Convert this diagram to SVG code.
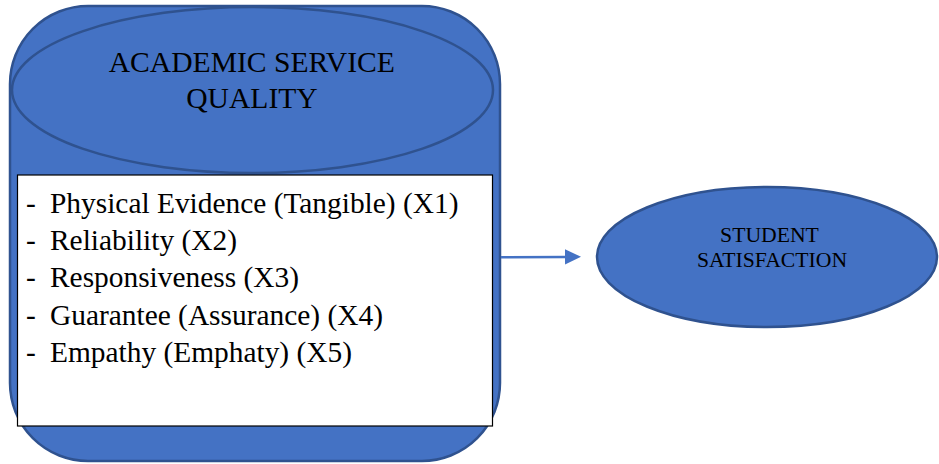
<svg xmlns="http://www.w3.org/2000/svg" width="939" height="464" viewBox="0 0 939 464">
  <defs>
    <style>
      .shape { fill: #4472C4; stroke: #2F528F; stroke-width: 2.5; }
      .txt { font-family: 'Liberation Serif', 'DejaVu Serif', 'Times New Roman', Times, serif; fill: #000; }
      .conn { stroke: #4472C4; stroke-width: 2.5; fill: none; }
    </style>
    <marker id="arrow" markerWidth="16" markerHeight="16" refX="1" refY="8" orient="auto" markerUnits="userSpaceOnUse" viewBox="0 0 16 16">
      <path d="M0,0.3 L16,8 L0,15.7 Z" fill="#4472C4"/>
    </marker>
  </defs>

  <!-- Academic service quality construct -->
  <g id="service-quality">
    <rect class="shape" x="10" y="6" width="490" height="455" rx="78" ry="78"/>
    <ellipse class="shape" cx="252.5" cy="90" rx="240.5" ry="83" stroke-width="2"/>
    <text class="txt" font-size="29.6" text-anchor="middle">
      <tspan x="255.5" y="72">ACADEMIC SERVICE</tspan>
      <tspan x="252" y="108">QUALITY</tspan>
    </text>
  </g>

  <!-- Dimension list -->
  <g id="dimensions">
    <rect x="17.5" y="175" width="475" height="251" fill="#FFFFFF" stroke="#000" stroke-width="1.2"/>
    <g class="txt" font-size="29.4">
      <text x="26" y="212.7">-</text>
      <text x="50" y="212.7">Physical Evidence (Tangible) (X1)</text>
      <text x="26" y="250">-</text>
      <text x="50" y="250">Reliability (X2)</text>
      <text x="26" y="287.3">-</text>
      <text x="50" y="287.3">Responsiveness (X3)</text>
      <text x="26" y="324.6">-</text>
      <text x="50" y="324.6">Guarantee (Assurance) (X4)</text>
      <text x="26" y="361.9">-</text>
      <text x="50" y="361.9">Empathy (Emphaty) (X5)</text>
    </g>
  </g>

  <!-- Student satisfaction construct -->
  <g id="student-satisfaction">
    <ellipse class="shape" cx="767" cy="257" rx="170" ry="70" stroke-width="2"/>
    <text class="txt" font-size="21.7" text-anchor="middle">
      <tspan x="772" y="241.7">STUDENT</tspan>
      <tspan x="772" y="267">SATISFACTION</tspan>
    </text>
  </g>

  <!-- Connectors -->
  <g id="connectors">
    <path class="conn" d="M501,257.3 L566,256.9" marker-end="url(#arrow)"/>
  </g>
</svg>
